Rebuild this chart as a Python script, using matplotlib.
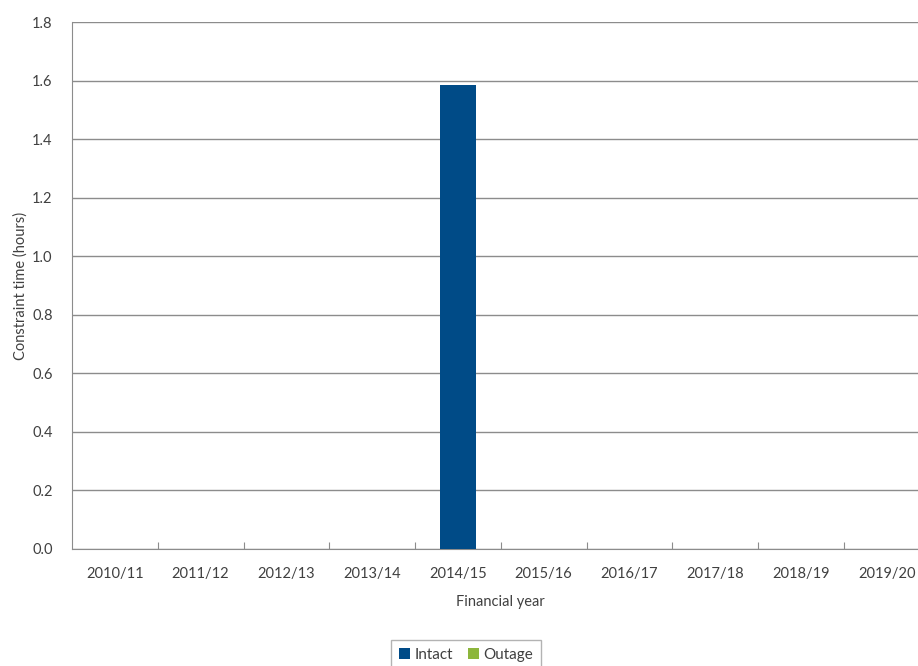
import matplotlib.pyplot as plt
import numpy as np

plt.rcParams['font.family'] = ['Lato', 'DejaVu Sans']

years = ["2010/11", "2011/12", "2012/13", "2013/14", "2014/15",
         "2015/16", "2016/17", "2017/18", "2018/19", "2019/20"]
intact = [0, 0, 0, 0, 1.585, 0, 0, 0, 0, 0]
outage = [0, 0, 0, 0, 0, 0, 0, 0, 0, 0]

text_col = "#404040"
grid_col = "#8c8c8c"

fig = plt.figure(figsize=(9.18, 6.66), dpi=100)
ax = fig.add_axes([72 / 918, 1 - 549 / 666, 857.5 / 918, 527 / 666])

x = np.arange(len(years))
ax.bar(x, intact, width=0.42, color="#004b87", label="Intact", zorder=3)
ax.bar(x, outage, width=0.42, bottom=intact, color="#8db63c", label="Outage", zorder=3)

ax.set_xlim(-0.5, len(years) - 0.5)
ax.set_ylim(0, 1.8)
ax.set_yticks(np.arange(0, 1.81, 0.2))
ax.set_yticklabels([f"{v:.1f}" for v in np.arange(0, 1.81, 0.2)])
ax.yaxis.grid(True, color=grid_col, linewidth=1, zorder=0)

ax.set_xticks(np.arange(0.5, len(years) - 0.5, 1))
ax.set_xticklabels([])
ax.set_xticks(x, minor=True)
ax.set_xticklabels(years, minor=True)
ax.tick_params(axis="x", which="major", direction="in", length=5, color=grid_col)
ax.tick_params(axis="x", which="minor", length=0, pad=13, labelsize=10.5, labelcolor=text_col)
ax.tick_params(axis="y", length=0, pad=14, labelsize=10.5, labelcolor=text_col)

for s in ["top", "right"]:
    ax.spines[s].set_visible(False)
for s in ["left", "bottom"]:
    ax.spines[s].set_color(grid_col)

ax.set_xlabel("Financial year", color=text_col, fontsize=10.5, labelpad=10)
ax.set_ylabel("Constraint time (hours)", color=text_col, fontsize=10.5, labelpad=3)

leg = fig.legend(loc="center", bbox_to_anchor=(466 / 918, 1 - 655 / 666), ncol=2,
                 frameon=True, fancybox=False, edgecolor="#a0a0a0",
                 handlelength=0.75, handleheight=0.75, handletextpad=0.25,
                 columnspacing=1.0, fontsize=11, borderpad=0.5, borderaxespad=0)
leg.get_frame().set_linewidth(1)
for t in leg.get_texts():
    t.set_color(text_col)

fig.savefig("out.png", dpi=100)
